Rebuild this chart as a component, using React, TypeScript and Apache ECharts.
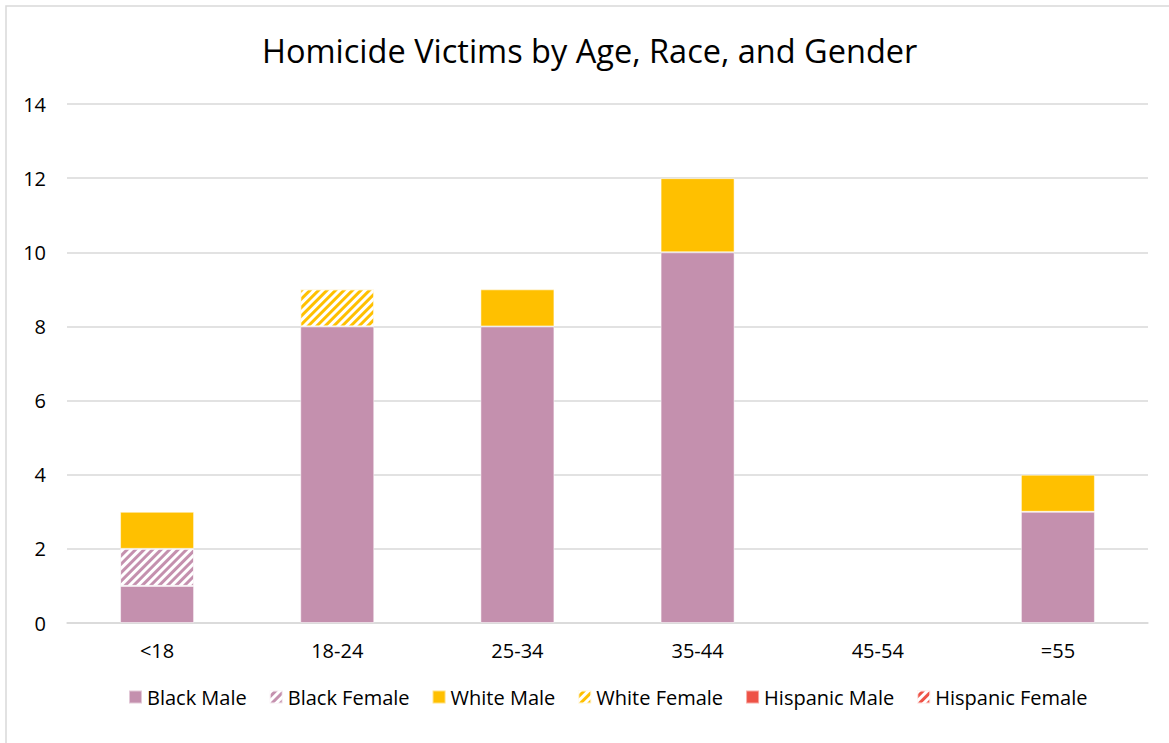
import React, { useEffect, useRef } from "react";
import * as echarts from "echarts";

const categories = ["<18", "18-24", "25-34", "35-44", "45-54", "=55"];
const blackMale = [1, 8, 8, 10, 0, 3];
const blackFemale = [1, 0, 0, 0, 0, 0];
const whiteMale = [1, 0, 1, 2, 0, 1];
const whiteFemale = [0, 1, 0, 0, 0, 0];
const hispanicMale = [0, 0, 0, 0, 0, 0];
const hispanicFemale = [0, 0, 0, 0, 0, 0];
const yTicks = [0, 2, 4, 6, 8, 10, 12, 14];

const PINK = "#C490AE";
const YELLOW = "#FFC000";
const RED = "#EE5246";
const FONT = "'Open Sans', 'Noto Sans', sans-serif";

const stripe = {
  symbol: "rect",
  color: "#ffffff",
  dashArrayX: [1, 0],
  dashArrayY: [3, 3],
  rotation: -Math.PI / 4,
  symbolSize: 1,
};

export default function App() {
  const ref = useRef<HTMLDivElement>(null);
  useEffect(() => {
    const chart = echarts.init(ref.current!, undefined, { renderer: "svg" });
    const mk = (name: string, data: number[], color: string, patterned: boolean) => ({
      name,
      type: "bar",
      stack: "total",
      data: data.map((v) => (v === 0 ? null : v)),
      barWidth: 74,
      itemStyle: {
        color,
        borderColor: "rgba(255,255,255,0.5)",
        borderWidth: 1,
        decal: patterned ? stripe : undefined,
      },
    });
    chart.setOption({
      animation: false,
      aria: { enabled: false, decal: { show: true } },
      title: {
        text: "Homicide Victims by Age, Race, and Gender",
        left: 257,
        top: 29,
        textStyle: { fontFamily: FONT, fontSize: 32.5, fontWeight: "normal", color: "#000" },
      },
      graphic: [
        {
          type: "rect",
          shape: { x: 6, y: 6, width: 1200, height: 800 },
          style: { fill: "none", stroke: "#D9D9D9", lineWidth: 1.5 },
          silent: true,
        },
      ],
      legend: {
        bottom: 31,
        left: 123,
        itemWidth: 13,
        itemHeight: 13,
        itemGap: 22,
        icon: "rect",
        textStyle: { fontFamily: FONT, fontSize: 20, color: "#000" },
        data: ["Black Male", "Black Female", "White Male", "White Female", "Hispanic Male", "Hispanic Female"],
      },
      grid: { left: 67, right: 21, top: 104, bottom: 120 },
      xAxis: {
        type: "category",
        data: categories,
        axisLine: { lineStyle: { color: "#D9D9D9", width: 1.5 } },
        axisTick: { show: false },
        axisLabel: { fontFamily: FONT, fontSize: 20, color: "#000", margin: 17 },
      },
      yAxis: {
        type: "value",
        min: yTicks[0],
        max: yTicks[yTicks.length - 1],
        interval: 2,
        splitLine: { lineStyle: { color: "#D9D9D9", width: 1.5 } },
        axisLine: { show: false },
        axisTick: { show: false },
        axisLabel: { fontFamily: FONT, fontSize: 20, color: "#000", margin: 21 },
      },
      series: [
        mk("Black Male", blackMale, PINK, false),
        mk("Black Female", blackFemale, PINK, true),
        mk("White Male", whiteMale, YELLOW, false),
        mk("White Female", whiteFemale, YELLOW, true),
        mk("Hispanic Male", hispanicMale, RED, false),
        mk("Hispanic Female", hispanicFemale, RED, true),
      ],
    });
    return () => chart.dispose();
  }, []);
  return (
    <div
      ref={ref}
      style={{ position: "absolute", left: 0, top: 0, width: 1169, height: 743, background: "#fff" }}
    />
  );
}
